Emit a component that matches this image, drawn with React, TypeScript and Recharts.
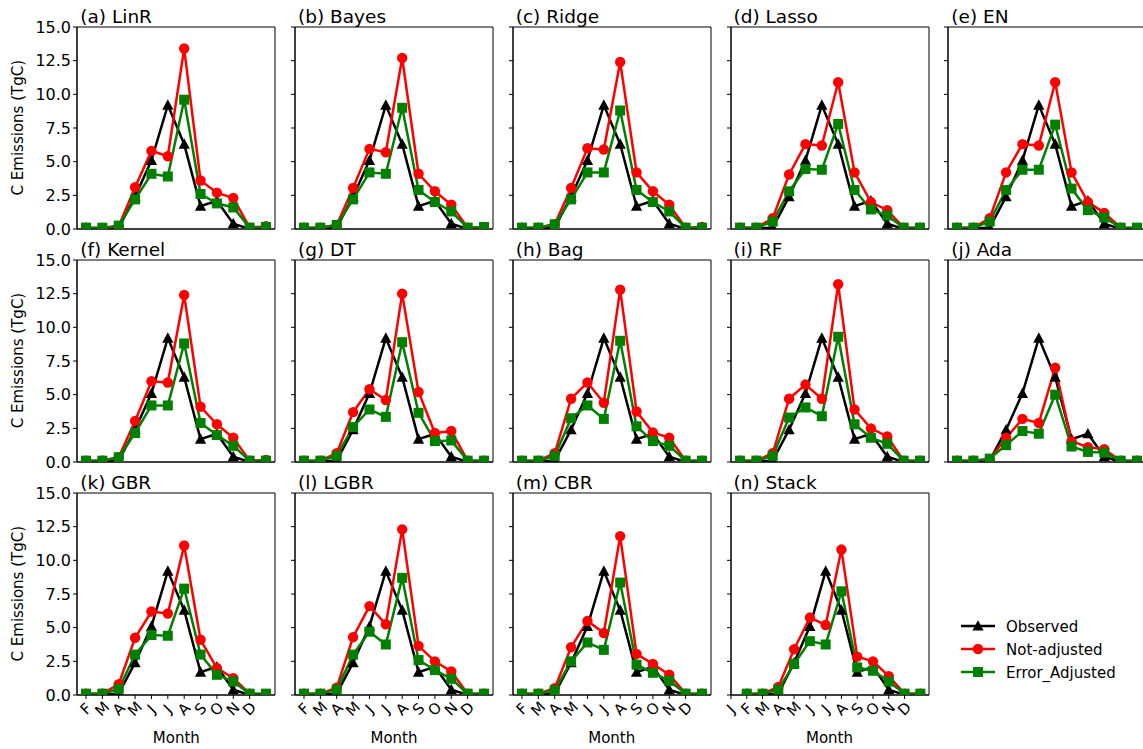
import React from "react";
import { LineChart, Line, XAxis, YAxis, ReferenceArea } from "recharts";

const MONTHS = ["J", "F", "M", "A", "M", "J", "J", "A", "S", "O", "N", "D"];
const Y_TICKS = [0, 2.5, 5, 7.5, 10, 12.5, 15];
const X_TICKS = [0, 1, 2, 3, 4, 5, 6, 7, 8, 9, 10];
const X_TICKS_LAST = [-1, 0, 1, 2, 3, 4, 5, 6, 7, 8, 9, 10];

const OBSERVED = [0.05, 0.05, 0.1, 2.4, 5.1, 9.2, 6.3, 1.7, 2.1, 0.4, 0.0, 0.05];

const TITLES = [
  "(a) LinR", "(b) Bayes", "(c) Ridge", "(d) Lasso", "(e) EN",
  "(f) Kernel", "(g) DT", "(h) Bag", "(i) RF", "(j) Ada",
  "(k) GBR", "(l) LGBR", "(m) CBR", "(n) Stack",
];

// not-adjusted (red) and error-adjusted (green) predictions per model
const LINR_RAW = [0.1, 0.05, 0.2, 3.1, 5.8, 5.4, 13.4, 3.6, 2.7, 2.3, 0.1, 0.2];
const LINR_ADJ = [0.1, 0.1, 0.25, 2.2, 4.1, 3.9, 9.6, 2.6, 1.9, 1.6, 0.1, 0.15];
const BAYES_RAW = [0.1, 0.1, 0.3, 3.05, 5.95, 5.7, 12.7, 4.1, 2.8, 1.8, 0.1, 0.1];
const BAYES_ADJ = [0.1, 0.1, 0.3, 2.2, 4.2, 4.1, 9.0, 2.9, 2.0, 1.3, 0.1, 0.15];
const RIDGE_RAW = [0.1, 0.1, 0.35, 3.05, 6.0, 5.9, 12.4, 4.2, 2.8, 1.8, 0.1, 0.15];
const RIDGE_ADJ = [0.1, 0.1, 0.35, 2.2, 4.2, 4.2, 8.8, 2.9, 2.0, 1.3, 0.1, 0.1];
const LASSO_RAW = [0.1, 0.1, 0.8, 4.05, 6.3, 6.2, 10.9, 4.2, 2.0, 1.4, 0.1, 0.1];
const LASSO_ADJ = [0.1, 0.1, 0.55, 2.8, 4.45, 4.4, 7.8, 2.9, 1.45, 1.0, 0.1, 0.1];
const EN_RAW = [0.1, 0.1, 0.8, 4.2, 6.3, 6.2, 10.9, 4.2, 2.0, 1.2, 0.1, 0.05];
const EN_ADJ = [0.1, 0.1, 0.55, 2.9, 4.4, 4.4, 7.75, 3.0, 1.4, 0.85, 0.1, 0.1];
const KERNEL_RAW = [0.1, 0.1, 0.35, 3.05, 6.0, 5.9, 12.4, 4.1, 2.8, 1.8, 0.1, 0.15];
const KERNEL_ADJ = [0.1, 0.1, 0.35, 2.15, 4.2, 4.2, 8.8, 2.9, 2.0, 1.2, 0.1, 0.1];
const DT_RAW = [0.1, 0.1, 0.65, 3.7, 5.4, 4.6, 12.5, 5.2, 2.15, 2.3, 0.1, 0.1];
const DT_ADJ = [0.1, 0.1, 0.45, 2.6, 3.9, 3.35, 8.9, 3.65, 1.55, 1.6, 0.1, 0.1];
const BAG_RAW = [0.1, 0.1, 0.65, 4.7, 5.9, 4.4, 12.8, 3.75, 2.2, 1.8, 0.1, 0.1];
const BAG_ADJ = [0.1, 0.1, 0.45, 3.25, 4.2, 3.2, 9.0, 2.65, 1.55, 1.2, 0.1, 0.1];
const RF_RAW = [0.1, 0.1, 0.65, 4.7, 5.75, 4.7, 13.2, 3.9, 2.5, 1.9, 0.1, 0.1];
const RF_ADJ = [0.1, 0.1, 0.45, 3.3, 4.05, 3.4, 9.3, 2.8, 1.8, 1.35, 0.1, 0.1];
const ADA_RAW = [0.1, 0.1, 0.2, 1.8, 3.2, 2.9, 7.0, 1.55, 1.1, 0.95, 0.1, 0.1];
const ADA_ADJ = [0.1, 0.1, 0.25, 1.25, 2.3, 2.1, 5.0, 1.15, 0.75, 0.7, 0.1, 0.1];
const GBR_RAW = [0.1, 0.1, 0.8, 4.25, 6.2, 6.05, 11.1, 4.1, 2.0, 1.25, 0.1, 0.05];
const GBR_ADJ = [0.1, 0.1, 0.45, 3.0, 4.45, 4.4, 7.9, 3.0, 1.5, 1.0, 0.1, 0.1];
const LGBR_RAW = [0.1, 0.1, 0.55, 4.3, 6.6, 5.25, 12.3, 3.65, 2.5, 1.75, 0.1, 0.1];
const LGBR_ADJ = [0.1, 0.1, 0.4, 3.0, 4.7, 3.75, 8.7, 2.6, 1.85, 1.2, 0.1, 0.1];
const CBR_RAW = [0.1, 0.1, 0.5, 3.55, 5.5, 4.6, 11.8, 3.05, 2.3, 1.5, 0.1, 0.1];
const CBR_ADJ = [0.1, 0.1, 0.35, 2.5, 3.9, 3.35, 8.35, 2.25, 1.65, 1.05, 0.1, 0.1];
const STACK_RAW = [0.1, 0.1, 0.6, 3.4, 5.75, 5.2, 10.8, 2.85, 2.5, 1.4, 0.1, 0.1];
const STACK_ADJ = [0.1, 0.1, 0.4, 2.3, 4.0, 3.75, 7.7, 2.05, 1.8, 1.0, 0.1, 0.1];

const RAW = [LINR_RAW, BAYES_RAW, RIDGE_RAW, LASSO_RAW, EN_RAW, KERNEL_RAW, DT_RAW,
  BAG_RAW, RF_RAW, ADA_RAW, GBR_RAW, LGBR_RAW, CBR_RAW, STACK_RAW];
const ADJ = [LINR_ADJ, BAYES_ADJ, RIDGE_ADJ, LASSO_ADJ, EN_ADJ, KERNEL_ADJ, DT_ADJ,
  BAG_ADJ, RF_ADJ, ADA_ADJ, GBR_ADJ, LGBR_ADJ, CBR_ADJ, STACK_ADJ];

const FONT = "DejaVu Sans";
const COL_X = [77.3, 295, 512.7, 730.5, 948.3];
const ROW_Y = [26.7, 259.5, 492.7];
const PW = 198;
const PH = 202;
const YW = 80;
const MT = 30;

const triangle = (p: any) => {
  const { cx, cy, index } = p;
  if (cx == null || cy == null) return <g key={`t${index}`} />;
  return (
    <path
      key={`t${index}`}
      d={`M${cx},${cy - 5.8} L${cx + 5.6},${cy + 4.6} L${cx - 5.6},${cy + 4.6} Z`}
      fill="#000"
    />
  );
};

const circle = (p: any) => {
  const { cx, cy, index } = p;
  if (cx == null || cy == null) return <g key={`c${index}`} />;
  return <circle key={`c${index}`} cx={cx} cy={cy} r={5.2} fill="#ff0000" />;
};

const square = (p: any) => {
  const { cx, cy, index } = p;
  if (cx == null || cy == null) return <g key={`s${index}`} />;
  return <rect key={`s${index}`} x={cx - 5} y={cy - 5} width={10} height={10} fill="#008000" />;
};

const MonthTick = (p: any) => {
  const { x, y, payload } = p;
  const label = MONTHS[payload.value + 1] ?? "";
  return (
    <g transform={`translate(${x},${y + 8})`}>
      <text
        transform="rotate(-45)"
        textAnchor="middle"
        dominantBaseline="central"
        fontSize={15}
        fontFamily={FONT}
        fill="#000"
      >
        {label}
      </text>
    </g>
  );
};

function Panel({ idx }: { idx: number }) {
  const row = Math.floor(idx / 5);
  const col = idx % 5;
  const bottom = row === 2;
  const last = idx === 13;
  const xh = bottom ? 32 : 14;
  const data = OBSERVED.map((v, i) => ({ m: i, obs: v, raw: RAW[idx][i], adj: ADJ[idx][i] }));
  const domain: [number, number] = last ? [-1, 11.55] : [-0.55, 11.55];
  return (
    <div
      style={{
        position: "absolute",
        left: COL_X[col] - YW,
        top: ROW_Y[row] - MT,
      }}
    >
      <LineChart
        width={YW + PW + 6}
        height={MT + PH + xh}
        data={data}
        margin={{ top: MT, right: 6, left: 0, bottom: 0 }}
        style={{ overflow: "visible" }}
      >
        <XAxis
          dataKey="m"
          type="number"
          domain={domain}
          ticks={last ? X_TICKS_LAST : X_TICKS}
          interval={0}
          allowDataOverflow
          height={xh}
          tickSize={4}
          tickLine={{ stroke: "#000" }}
          axisLine={{ stroke: "#000" }}
          tick={bottom ? <MonthTick /> : false}
        />
        <YAxis
          type="number"
          domain={[0, 15]}
          ticks={Y_TICKS}
          interval={0}
          allowDataOverflow
          width={YW}
          tickSize={4}
          tickMargin={2}
          tickLine={{ stroke: "#000" }}
          axisLine={{ stroke: "#000" }}
          tickFormatter={(v: number) => (col === 0 ? v.toFixed(1) : "")}
          tick={{ fill: "#000", fontSize: 16, fontFamily: FONT }}
        />
        <ReferenceArea
          x1={domain[0]}
          x2={domain[1]}
          y1={0}
          y2={15}
          fill="none"
          stroke="#000"
          strokeWidth={1}
        />
        <Line
          dataKey="obs"
          stroke="#000"
          strokeWidth={2.5}
          dot={triangle}
          isAnimationActive={false}
        />
        <Line
          dataKey="raw"
          stroke="#ff0000"
          strokeWidth={2.5}
          dot={circle}
          isAnimationActive={false}
        />
        <Line
          dataKey="adj"
          stroke="#008000"
          strokeWidth={2.5}
          dot={square}
          isAnimationActive={false}
        />
      </LineChart>
    </div>
  );
}

function Overlay() {
  const legend = [
    { label: "Observed", color: "#000", shape: "tri" },
    { label: "Not-adjusted", color: "#ff0000", shape: "circ" },
    { label: "Error_Adjusted", color: "#008000", shape: "sq" },
  ];
  return (
    <svg
      width={1143}
      height={749}
      style={{ position: "absolute", left: 0, top: 0, pointerEvents: "none" }}
      fontFamily={FONT}
    >
      {TITLES.map((t, i) => (
        <text
          key={t}
          x={COL_X[i % 5] + 3}
          y={ROW_Y[Math.floor(i / 5)] - 3.5}
          fontSize={18.5}
          fill="#000"
        >
          {t}
        </text>
      ))}
      {ROW_Y.map((y) => (
        <text
          key={`yl${y}`}
          transform={`translate(23,${y + PH / 2}) rotate(-90)`}
          textAnchor="middle"
          fontSize={15}
          fill="#000"
        >
          C Emissions (TgC)
        </text>
      ))}
      {COL_X.slice(0, 4).map((x) => (
        <text key={`ml${x}`} x={x + PW / 2} y={743} textAnchor="middle" fontSize={15} fill="#000">
          Month
        </text>
      ))}
      {legend.map((l, i) => {
        const cy = 626 + i * 23;
        const cx = 978;
        return (
          <g key={l.label}>
            <line x1={961} x2={995} y1={cy} y2={cy} stroke={l.color} strokeWidth={2.5} />
            {l.shape === "tri" && (
              <path d={`M${cx},${cy - 5.8} L${cx + 5.6},${cy + 4.6} L${cx - 5.6},${cy + 4.6} Z`} fill={l.color} />
            )}
            {l.shape === "circ" && <circle cx={cx} cy={cy} r={5.2} fill={l.color} />}
            {l.shape === "sq" && <rect x={cx - 5} y={cy - 5} width={10} height={10} fill={l.color} />}
            <text x={1006} y={cy + 5.5} fontSize={15} fill="#000">
              {l.label}
            </text>
          </g>
        );
      })}
    </svg>
  );
}

export default function App() {
  return (
    <div
      style={{
        position: "absolute",
        left: 0,
        top: 0,
        width: 1143,
        height: 749,
        background: "#fff",
        fontFamily: FONT,
      }}
    >
      {TITLES.map((t, i) => (
        <Panel key={t} idx={i} />
      ))}
      <Overlay />
    </div>
  );
}
